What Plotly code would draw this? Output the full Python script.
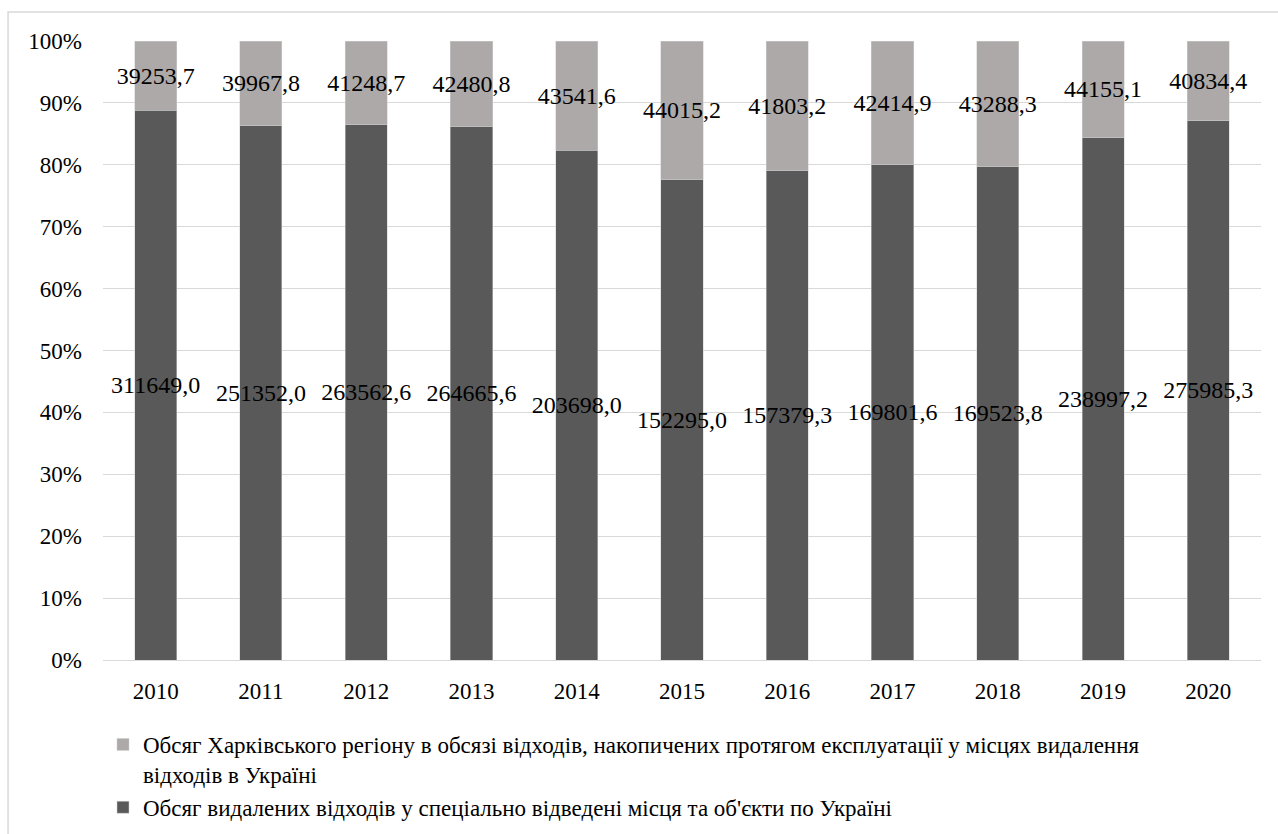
import plotly.graph_objects as go

years = ["2010", "2011", "2012", "2013", "2014", "2015", "2016", "2017", "2018", "2019", "2020"]
ukraine_removed = [311649.0, 251352.0, 263562.6, 264665.6, 203698.0, 152295.0, 157379.3, 169801.6, 169523.8, 238997.2, 275985.3]
kharkiv_accum = [39253.7, 39967.8, 41248.7, 42480.8, 43541.6, 44015.2, 41803.2, 42414.9, 43288.3, 44155.1, 40834.4]

name_dark = "Обсяг видалених відходів у спеціально відведені місця та об'єкти по Україні"
name_light = ("Обсяг Харківського регіону в обсязі відходів, накопичених протягом експлуатації у місцях видалення"
              "<br>відходів в Україні")

def fmt(v):
    return f"{v:.1f}".replace(".", ",")

FONT = "Liberation Serif"
FS_LBL = 24
FS_TICK = 23
FS_LEG = 23

fig = go.Figure()
fig.add_trace(go.Bar(
    x=years, y=ukraine_removed, name=name_dark,
    marker=dict(color="#595959", line=dict(color="#d0d0d0", width=0.5)),
    text=[fmt(v) for v in ukraine_removed], textposition="inside",
    insidetextanchor="middle", textangle=0, constraintext="none",
    textfont=dict(color="black", size=FS_LBL, family=FONT),
    legendrank=2, hoverinfo="skip",
))
fig.add_trace(go.Bar(
    x=years, y=kharkiv_accum, name=name_light,
    marker=dict(color="#ACA9A8", line=dict(color="#d0d0d0", width=0.5)),
    text=[fmt(v) for v in kharkiv_accum], textposition="inside",
    insidetextanchor="middle", textangle=0, constraintext="none",
    textfont=dict(color="black", size=FS_LBL, family=FONT),
    legendrank=1, hoverinfo="skip",
))

fig.update_layout(
    barmode="stack", barnorm="percent", bargap=0.6,
    width=1278, height=834,
    margin=dict(l=103, r=17, t=41, b=174, autoexpand=False),
    paper_bgcolor="white", plot_bgcolor="white",
    font=dict(family=FONT, size=FS_TICK, color="black"),
    uniformtext=dict(minsize=FS_LBL, mode="show"),
    showlegend=True,
    legend=dict(
        x=0.0, y=1 - 723 / 834, xanchor="left", yanchor="top", yref="container",
        orientation="v", traceorder="normal", tracegroupgap=0, valign="top",
        font=dict(size=FS_LEG, family=FONT, color="black"),
        itemwidth=30, bgcolor="rgba(0,0,0,0)",
    ),
    xaxis=dict(
        showgrid=False, showline=True, linecolor="#D9D9D9", linewidth=1,
        ticks="", tickfont=dict(size=FS_TICK, family=FONT, color="black"), ticklabelstandoff=10,
    ),
    yaxis=dict(
        range=[0, 100], tickvals=list(range(0, 101, 10)),
        ticktext=[f"{v}%" for v in range(0, 101, 10)],
        showgrid=True, gridcolor="#D9D9D9", gridwidth=1,
        zeroline=False, ticks="", tickfont=dict(size=FS_TICK, family=FONT, color="black"),
        ticklabelstandoff=20,
    ),
    shapes=[dict(
        type="rect", xref="paper", yref="paper",
        x0=-0.082, x1=1.03, y0=-0.32, y1=1.0469,
        line=dict(color="#D9D9D9", width=1.5), fillcolor="rgba(0,0,0,0)", layer="below",
    )],
)

fig.write_html("out.html")
